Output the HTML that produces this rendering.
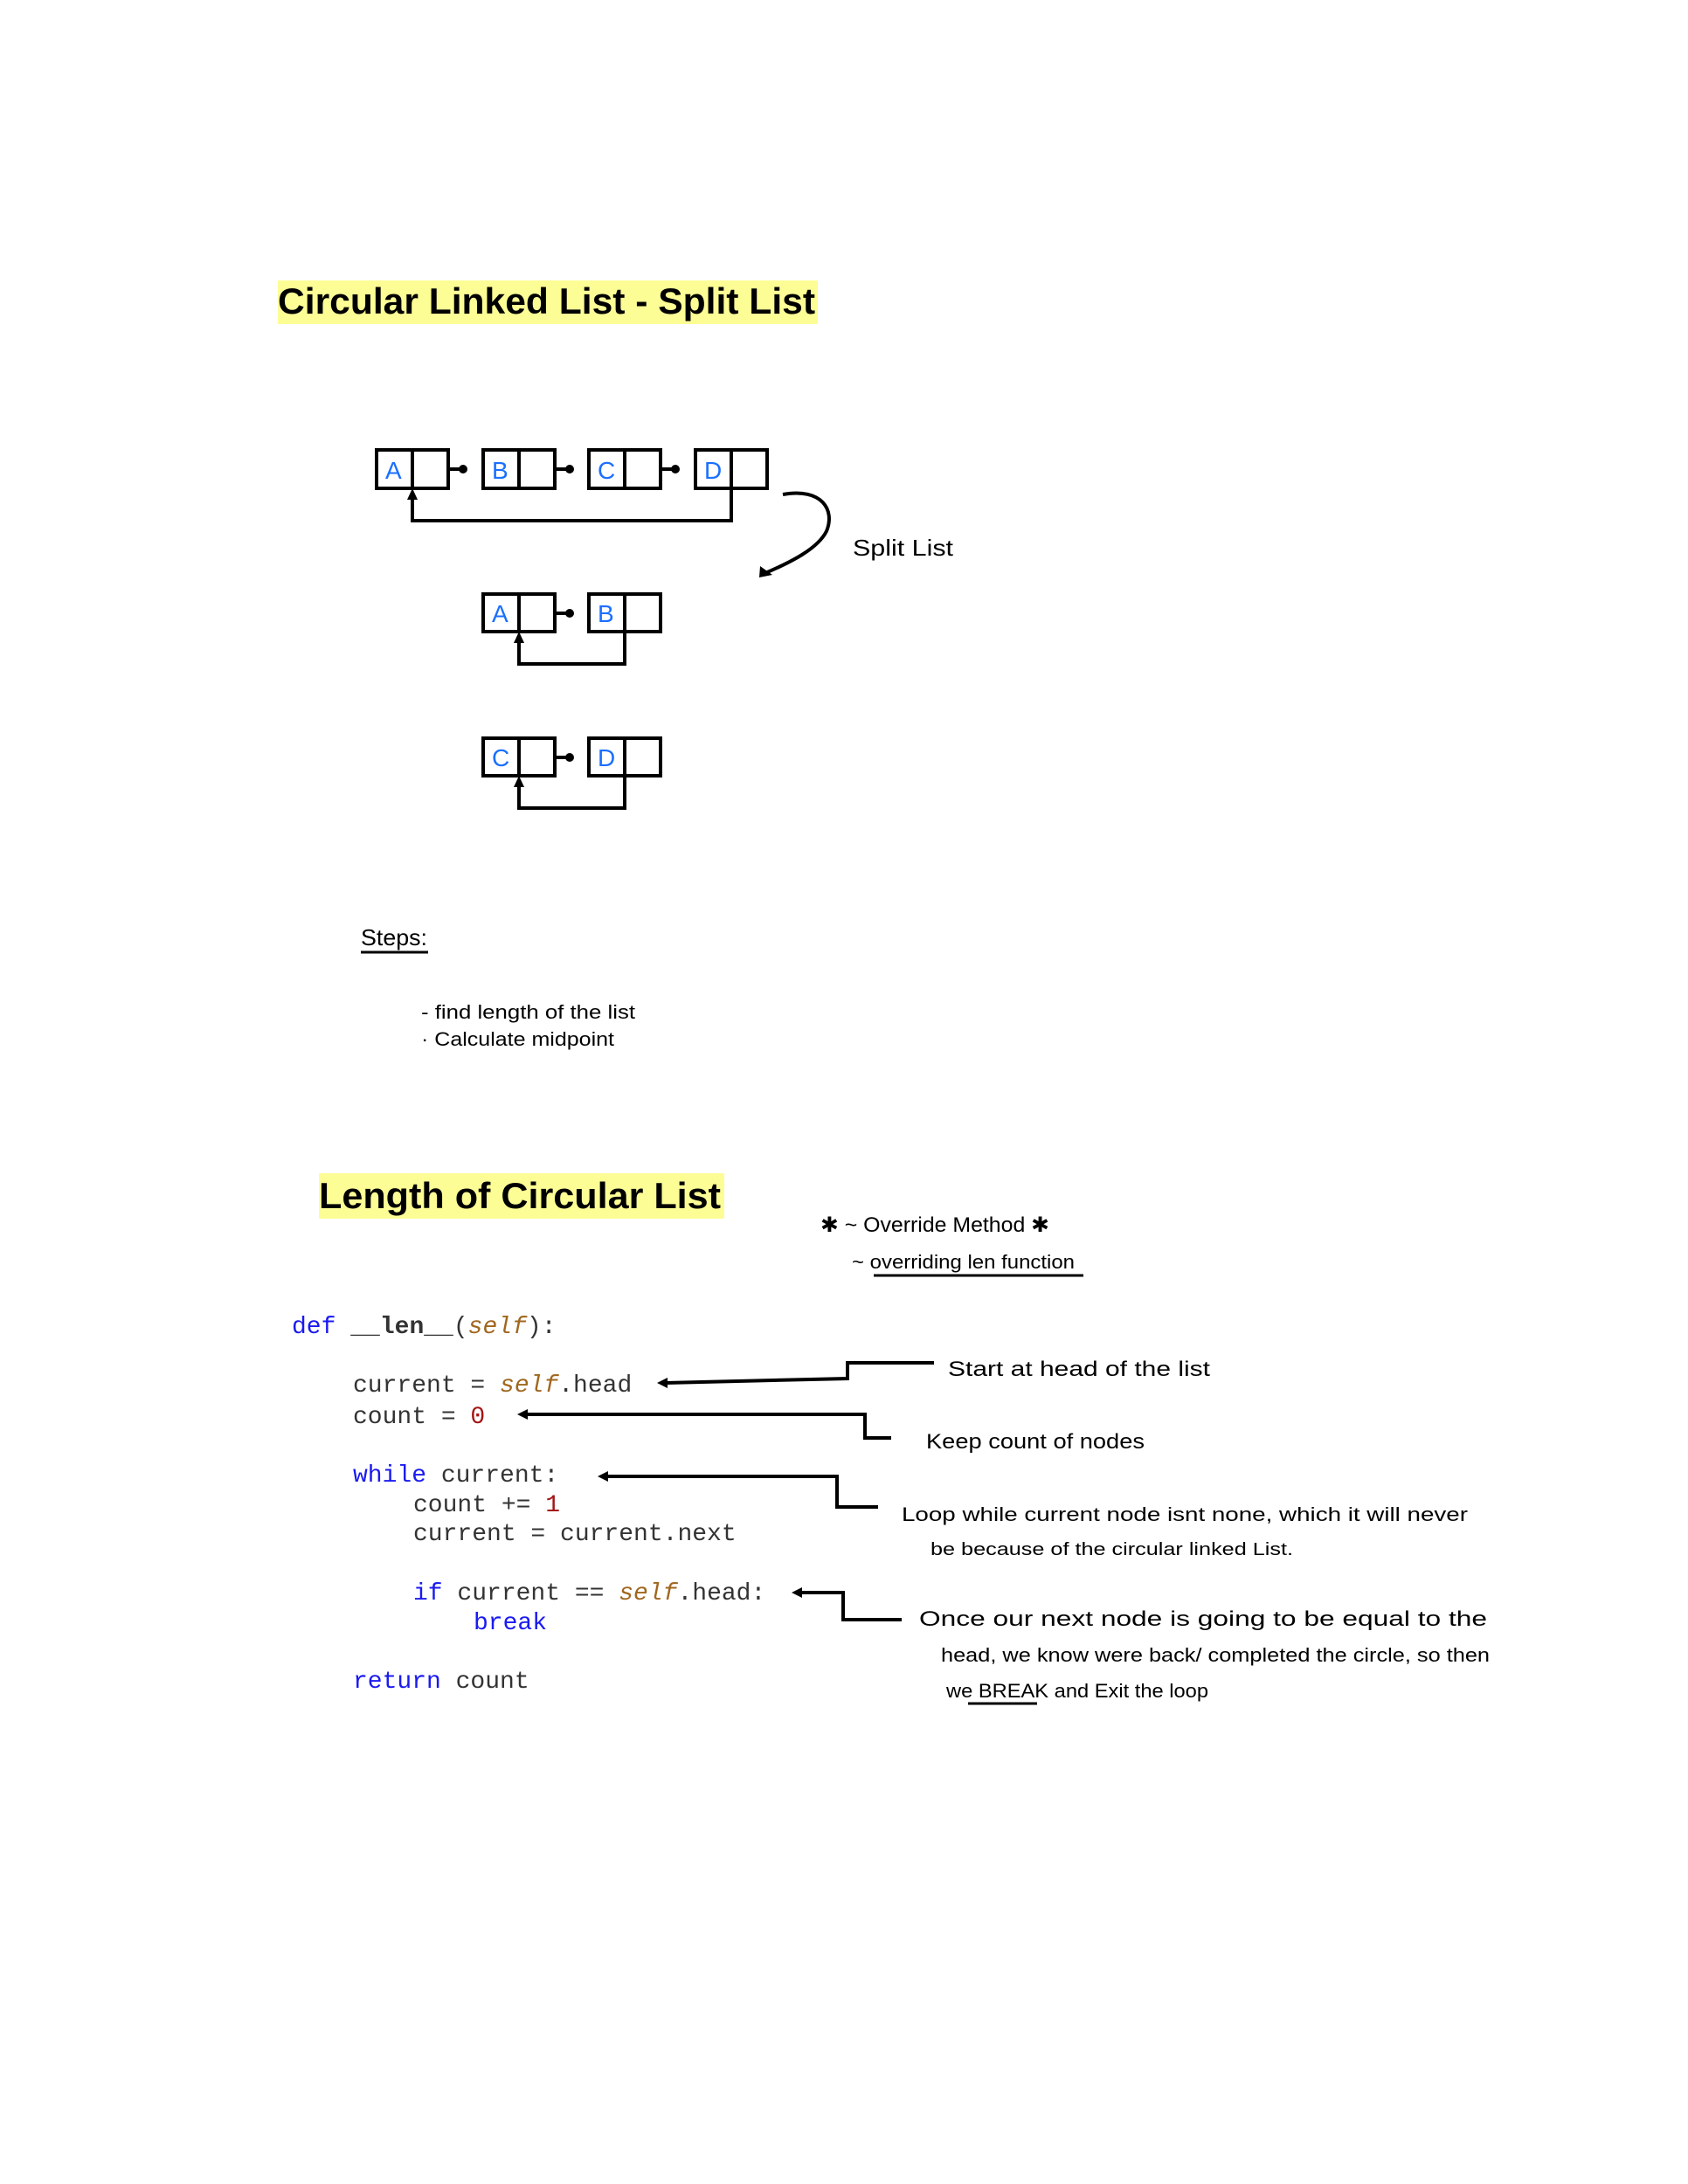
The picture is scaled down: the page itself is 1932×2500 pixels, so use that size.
<!DOCTYPE html>
<html><head><meta charset="utf-8"><style>
html,body{margin:0;padding:0;background:#fff}
svg{display:block}
.h{font-family:"Liberation Sans",sans-serif;font-weight:bold;fill:#000}
.w{font-family:"Liberation Sans Narrow","Liberation Sans",sans-serif;fill:#000}
.c{font-family:"Liberation Mono",monospace;font-size:28px;fill:#333}
.k{fill:#1a1af0}.s{fill:#a0661e;font-style:italic}.n{fill:#a31515}
.L{font-family:"Liberation Sans",sans-serif;fill:#1a6fff;font-size:28px}
</style></head><body>
<svg width="1932" height="2500" viewBox="0 0 1932 2500" xmlns="http://www.w3.org/2000/svg">
<!-- Title 1 -->
<rect x="318" y="321" width="618" height="50" fill="#fdfd96"/>
<text class="h" x="318" y="359" font-size="42" textLength="615" lengthAdjust="spacingAndGlyphs">Circular Linked List - Split List</text>

<g transform="translate(6,0)">
<g fill="none" stroke="#000" stroke-width="4">
<rect x="425" y="515" width="82" height="44"/><line x1="466" y1="515" x2="466" y2="559"/>
<rect x="547" y="515" width="82" height="44"/><line x1="588" y1="515" x2="588" y2="559"/>
<rect x="668" y="515" width="82" height="44"/><line x1="709" y1="515" x2="709" y2="559"/>
<rect x="790" y="515" width="82" height="44"/><line x1="831" y1="515" x2="831" y2="559"/>
<line x1="507" y1="537" x2="522" y2="537"/><line x1="629" y1="537" x2="644" y2="537"/><line x1="750" y1="537" x2="765" y2="537"/>
<polyline points="831,559 831,596 466,596 466,568"/>
<path d="M890,566 C935,558 950,584 940,608 C930,628 900,643 870,656"/>
<rect x="547" y="680" width="82" height="43"/><line x1="588" y1="680" x2="588" y2="723"/>
<rect x="668" y="680" width="82" height="43"/><line x1="709" y1="680" x2="709" y2="723"/>
<line x1="629" y1="702" x2="644" y2="702"/>
<polyline points="709,723 709,760 588,760 588,732"/>
<rect x="547" y="845" width="82" height="43"/><line x1="588" y1="845" x2="588" y2="888"/>
<rect x="668" y="845" width="82" height="43"/><line x1="709" y1="845" x2="709" y2="888"/>
<line x1="629" y1="867" x2="644" y2="867"/>
<polyline points="709,888 709,925 588,925 588,897"/>
</g>
<g fill="#000">
<circle cx="524" cy="537" r="5"/><circle cx="646" cy="537" r="5"/><circle cx="767" cy="537" r="5"/>
<circle cx="646" cy="702" r="5"/><circle cx="646" cy="867" r="5"/>
<path d="M460,572 L466,559 L472,572 z"/><path d="M582,736 L588,723 L594,736 z"/><path d="M582,901 L588,888 L594,901 z"/>
<path d="M864,648 L878,658 L863,661 z"/>
</g>
<g class="L">
<text x="435" y="548">A</text><text x="557" y="548">B</text><text x="678" y="548">C</text><text x="800" y="548">D</text>
<text x="557" y="712">A</text><text x="678" y="712">B</text>
<text x="557" y="877">C</text><text x="678" y="877">D</text>
</g>
</g>
<text class="w" x="976" y="636" font-size="26" textLength="115" lengthAdjust="spacingAndGlyphs">Split List</text>

<!-- Steps -->
<text class="w" x="413" y="1082" font-size="26" textLength="76" lengthAdjust="spacingAndGlyphs">Steps:</text>
<line x1="413" y1="1090" x2="490" y2="1090" stroke="#000" stroke-width="3"/>
<text class="w" x="482" y="1166" font-size="22" textLength="245" lengthAdjust="spacingAndGlyphs">- find length of the list</text>
<text class="w" x="482" y="1197" font-size="22" textLength="221" lengthAdjust="spacingAndGlyphs">· Calculate  midpoint</text>

<!-- Title 2 -->
<rect x="365" y="1343" width="464" height="52" fill="#fdfd96"/>
<text class="h" x="365" y="1383" font-size="42" textLength="460" lengthAdjust="spacingAndGlyphs">Length of Circular List</text>

<text class="w" x="939" y="1410" font-size="24" textLength="262" lengthAdjust="spacingAndGlyphs">✱ ~ Override  Method ✱</text>
<text class="w" x="975" y="1452" font-size="22" textLength="255" lengthAdjust="spacingAndGlyphs">~ overriding  len function</text>
<line x1="1000" y1="1460" x2="1240" y2="1460" stroke="#000" stroke-width="3"/>

<!-- code -->
<text class="c" x="334" y="1526"><tspan class="k">def</tspan> <tspan font-weight="bold">__len__</tspan>(<tspan class="s">self</tspan>):</text>
<text class="c" x="404" y="1593">current = <tspan class="s">self</tspan>.head</text>
<text class="c" x="404" y="1629">count = <tspan class="n">0</tspan></text>
<text class="c" x="404" y="1696"><tspan class="k">while</tspan> current:</text>
<text class="c" x="473" y="1730">count += <tspan class="n">1</tspan></text>
<text class="c" x="473" y="1763">current = current.next</text>
<text class="c" x="473" y="1831"><tspan class="k">if</tspan> current == <tspan class="s">self</tspan>.head:</text>
<text class="c k" x="542" y="1865">break</text>
<text class="c" x="404" y="1932"><tspan class="k">return</tspan> count</text>

<g fill="none" stroke="#000" stroke-width="4">
<polyline points="1069,1560 970,1560 970,1578 760,1583"/>
<polyline points="1020,1646 990,1646 990,1619 600,1619"/>
<polyline points="1005,1725 958,1725 958,1690 692,1690"/>
<polyline points="1032,1854 965,1854 965,1823 916,1823"/>
</g>
<g fill="#000">
<path d="M752,1583 L764,1577 L764,1589 z"/>
<path d="M592,1619 L604,1613 L604,1625 z"/>
<path d="M684,1690 L696,1684 L696,1696 z"/>
<path d="M906,1823 L918,1817 L918,1829 z"/>
</g>
<text class="w" x="1085" y="1575" font-size="24" textLength="300" lengthAdjust="spacingAndGlyphs">Start  at  head  of  the  list</text>
<text class="w" x="1060" y="1658" font-size="24" textLength="250" lengthAdjust="spacingAndGlyphs">Keep  count  of  nodes</text>
<text class="w" x="1032" y="1741" font-size="22" textLength="648" lengthAdjust="spacingAndGlyphs">Loop  while  current node  isnt  none, which it will never</text>
<text class="w" x="1065" y="1780" font-size="20" textLength="415" lengthAdjust="spacingAndGlyphs">be  because  of  the  circular  linked List.</text>
<text class="w" x="1052" y="1861" font-size="24" textLength="650" lengthAdjust="spacingAndGlyphs">Once  our  next  node  is  going  to  be  equal to the</text>
<text class="w" x="1077" y="1902" font-size="22" textLength="628" lengthAdjust="spacingAndGlyphs">head,  we  know  were  back/ completed  the  circle, so then</text>
<text class="w" x="1083" y="1943" font-size="22" textLength="300" lengthAdjust="spacingAndGlyphs">we  BREAK  and  Exit  the  loop</text>
<line x1="1108" y1="1950" x2="1187" y2="1950" stroke="#000" stroke-width="3"/>
</svg>
</body></html>
